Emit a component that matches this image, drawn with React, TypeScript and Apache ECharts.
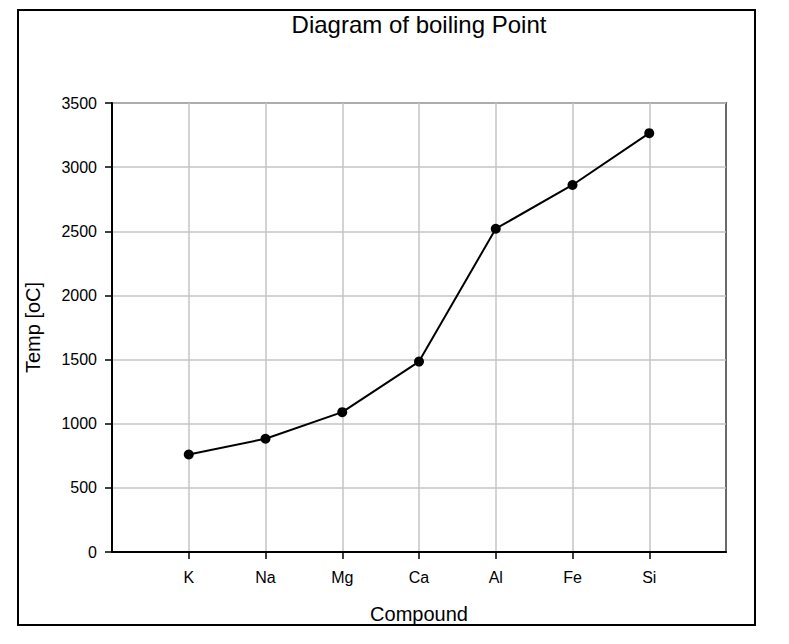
import React, { useEffect, useRef } from "react";
import * as echarts from "echarts";

const categories = ["", "K", "Na", "Mg", "Ca", "Al", "Fe", "Si", ""];
const boilingPoints: (number | null)[] = [null, 760, 883, 1090, 1484, 2520, 2861, 3265, null];
const yTicks = { min: 0, max: 3500, interval: 500 };

const FONT = "'Liberation Sans', Arial, sans-serif";

export default function App() {
  const ref = useRef<HTMLDivElement>(null);
  useEffect(() => {
    if (!ref.current) return;
    const chart = echarts.init(ref.current, undefined, { renderer: "svg" });
    const inner = (i: number) => i > 0 && i < categories.length - 1;
    chart.setOption({
      animation: false,
      backgroundColor: "#ffffff",
      textStyle: { fontFamily: FONT },
      title: {
        text: "Diagram of boiling Point",
        left: 419,
        textAlign: "center",
        top: 12,
        padding: 0,
        textStyle: { fontFamily: FONT, fontSize: 24, fontWeight: "normal", color: "#000" },
      },
      graphic: [
        {
          type: "rect",
          shape: { x: 18, y: 10, width: 737, height: 615 },
          style: { fill: "none", stroke: "#000", lineWidth: 2 },
          silent: true,
        },
      ],
      grid: {
        left: 112,
        top: 103,
        right: 63,
        bottom: 92,
        show: true,
        borderColor: "#6a6a6a",
        borderWidth: 2,
        backgroundColor: "transparent",
      },
      xAxis: {
        type: "category",
        data: categories,
        boundaryGap: false,
        name: "Compound",
        nameLocation: "middle",
        nameGap: 52,
        nameTextStyle: { fontFamily: FONT, fontSize: 20, color: "#000" },
        axisLine: { lineStyle: { color: "#000", width: 2 } },
        axisTick: { show: true, length: 7, interval: (i: number) => inner(i), lineStyle: { color: "#000", width: 1.5 } },
        axisLabel: { interval: 0, margin: 17, fontFamily: FONT, fontSize: 16, color: "#000" },
        splitLine: { show: true, interval: (i: number) => inner(i), lineStyle: { color: "#c4c4c4", width: 1.5 } },
      },
      yAxis: {
        type: "value",
        min: yTicks.min,
        max: yTicks.max,
        interval: yTicks.interval,
        name: "Temp [oC]",
        nameLocation: "middle",
        nameGap: 69,
        nameRotate: 90,
        nameTextStyle: { fontFamily: FONT, fontSize: 20, color: "#000" },
        axisLine: { show: true, lineStyle: { color: "#000", width: 2 } },
        axisTick: { show: true, length: 7, lineStyle: { color: "#000", width: 1.5 } },
        axisLabel: { margin: 15, fontFamily: FONT, fontSize: 16, color: "#000", formatter: (v: number) => String(v) },
        splitLine: { show: true, lineStyle: { color: "#c4c4c4", width: 1.5 } },
      },
      series: [
        {
          type: "line",
          data: boilingPoints,
          connectNulls: false,
          symbol: "circle",
          symbolSize: 10,
          itemStyle: { color: "#000" },
          lineStyle: { color: "#000", width: 2 },
        },
      ],
    });
    return () => chart.dispose();
  }, []);
  return (
    <div
      ref={ref}
      style={{ position: "fixed", left: 0, top: 0, width: 789, height: 644, background: "#fff" }}
    />
  );
}
